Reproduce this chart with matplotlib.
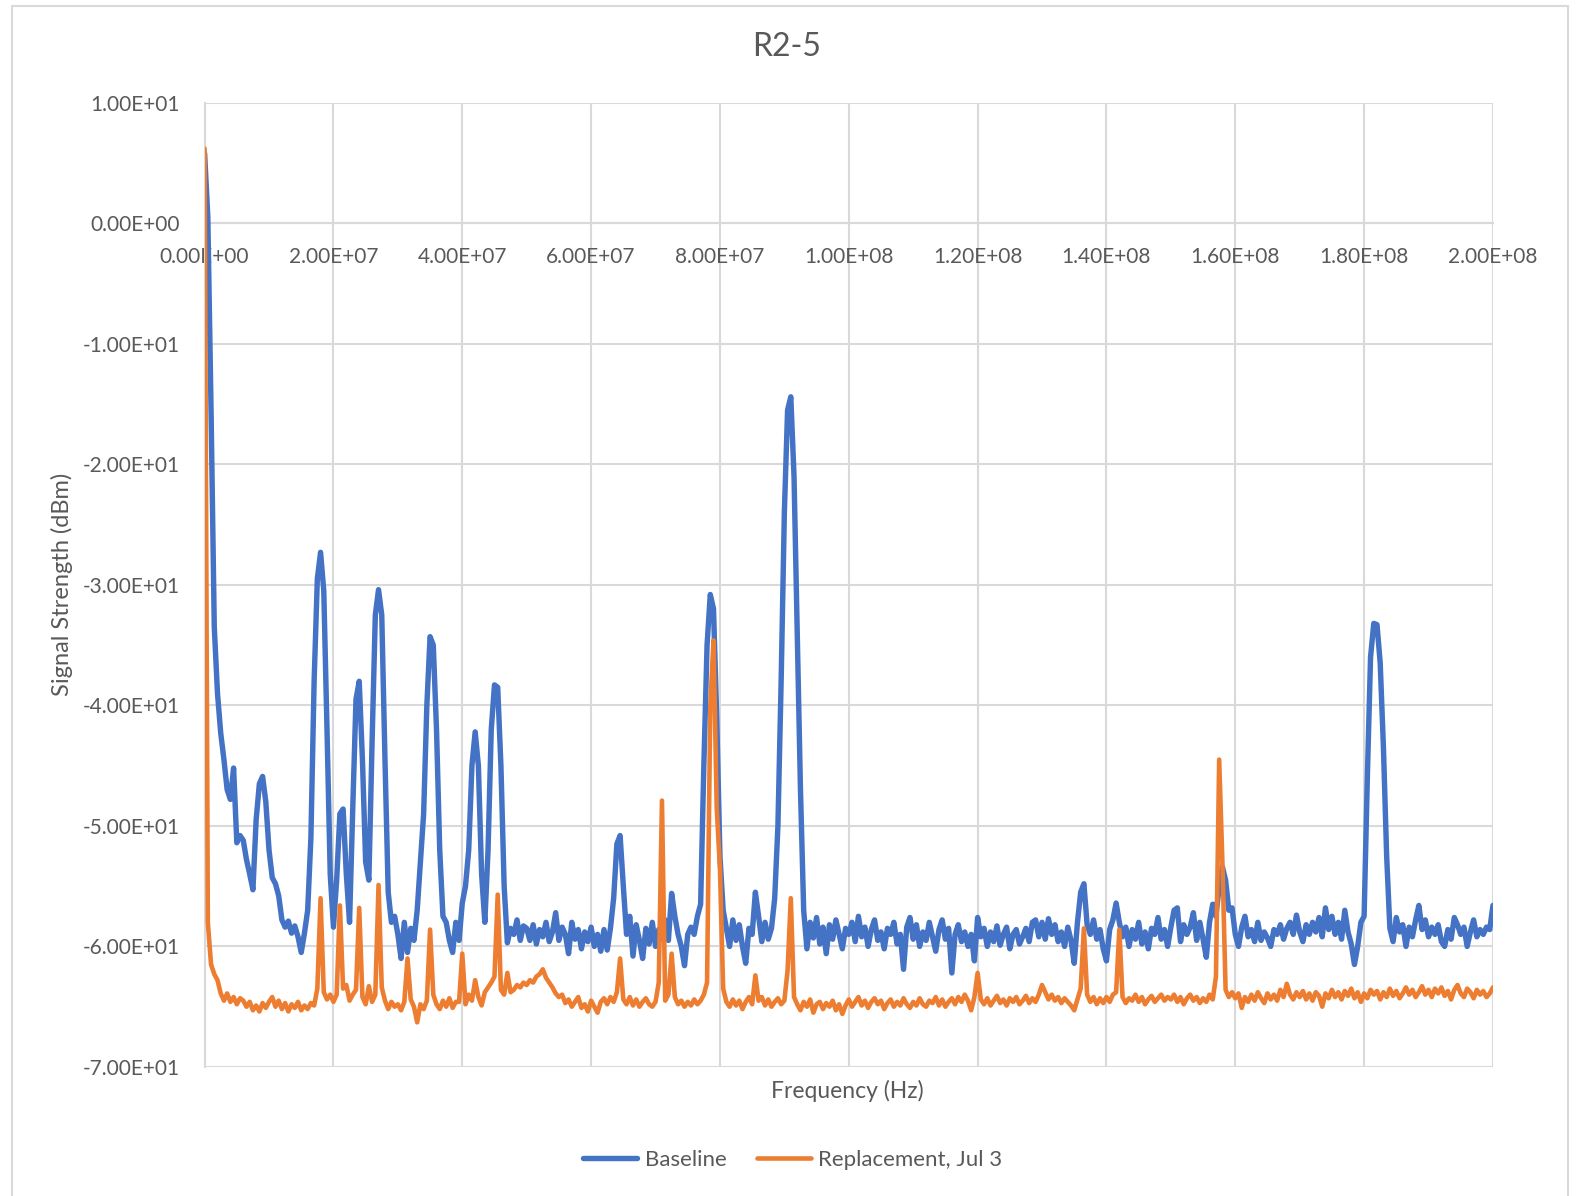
import matplotlib
matplotlib.use('Agg')
import matplotlib.pyplot as plt
from matplotlib.patches import Rectangle
from matplotlib.ticker import FuncFormatter, MultipleLocator
import numpy as np

plt.rcParams['font.family'] = ['Lato', 'DejaVu Sans']

# sweep points every 0.5 MHz from 0 to 200 MHz
freq_hz = np.linspace(0, 2e8, 401)

# Baseline trace (dBm), one row per 10 MHz
baseline = [
    5.8, 0.5, -15.5, -33.5, -39.0, -42.3, -44.5, -47.0, -47.8, -45.2,
    -51.4, -50.8, -51.2, -52.8, -54.0, -55.3, -49.5, -46.5, -45.9, -48.0,
    -52.0, -54.3, -54.8, -55.8, -57.8, -58.4, -57.9, -58.9, -58.3, -59.2,
    -60.5, -58.9, -57.0, -51.0, -38.0, -29.5, -27.3, -30.5, -42.0, -54.0,
    -58.4, -54.5, -49.0, -48.6, -54.0, -58.0, -48.5, -39.5, -38.0, -44.5,
    -53.0, -54.5, -43.0, -32.5, -30.4, -32.5, -44.5, -55.5, -58.0, -57.5,
    -59.0, -61.0, -58.0, -60.5, -58.5, -59.5, -57.0, -53.0, -49.0, -40.0,
    -34.3, -35.0, -42.0, -52.0, -57.5, -58.0, -59.5, -60.5, -58.0, -59.5,
    -56.4, -55.0, -52.0, -45.0, -42.2, -45.0, -54.0, -58.0, -52.0, -42.0,
    -38.3, -38.5, -45.0, -55.0, -59.7, -58.5, -59.0, -57.8, -59.5, -58.3,
    -58.5, -59.5, -58.2, -59.8, -58.6, -59.2, -58.0, -59.6, -58.8, -57.2,
    -59.5, -58.4, -59.0, -60.6, -58.0, -59.4, -58.6, -60.2, -58.8, -59.6,
    -58.4, -60.0, -59.0, -60.4, -58.6, -60.3, -58.5, -56.0, -51.5, -50.8,
    -55.0, -59.0, -57.5, -60.8, -58.2, -59.5, -61.0, -58.5, -59.8, -58.0,
    -60.0, -58.6, -59.4, -57.8, -59.5, -55.6, -57.5, -59.0, -60.0, -61.6,
    -59.0, -58.4, -59.0, -57.5, -56.5, -45.0, -35.0, -30.8, -32.0, -41.0,
    -52.5, -57.0, -58.5, -60.0, -57.8, -59.5, -58.2, -60.0, -61.4, -58.5,
    -59.0, -55.5, -57.5, -59.6, -58.0, -59.4, -58.5, -56.0, -50.0, -38.0,
    -24.0, -15.5, -14.4, -21.0, -34.0, -47.0, -57.0, -60.2, -58.0, -59.3,
    -57.6, -59.8, -58.4, -60.6, -58.2, -59.4, -57.8, -59.0, -60.2, -58.5,
    -59.0, -58.0, -59.6, -57.5, -59.2, -58.4, -60.0, -58.6, -57.8, -59.5,
    -58.8, -60.2, -58.5, -59.0, -58.0, -59.8, -59.0, -61.9, -58.4, -57.6,
    -59.4, -58.2, -60.0, -58.8, -59.5, -58.0, -59.2, -60.4, -58.6, -57.8,
    -59.4, -58.5, -62.2, -59.0, -58.2, -59.6, -58.8, -60.0, -59.0, -61.2,
    -57.6, -59.2, -58.5, -60.0, -58.8, -59.6, -58.3, -59.9, -59.0, -58.4,
    -60.2, -59.0, -58.6, -59.8, -59.2, -58.5, -59.6, -58.0, -57.8, -59.2,
    -58.0, -59.4, -57.7, -59.0, -58.2, -59.6, -58.8, -60.0, -58.4, -59.5,
    -61.4, -58.0, -55.5, -54.8, -58.2, -59.0, -57.8, -59.4, -58.6, -60.2,
    -61.2, -58.6, -57.8, -56.4, -58.0, -59.2, -58.4, -60.0, -58.6, -59.4,
    -58.0, -59.8, -58.8, -60.2, -58.5, -59.0, -57.6, -59.4, -58.6, -60.0,
    -58.4, -57.0, -56.8, -59.6, -58.2, -59.0, -58.4, -57.2, -59.5, -58.0,
    -59.4, -60.9, -58.0, -56.5, -57.5, -55.0, -53.4, -54.5, -57.0, -56.8,
    -59.0, -60.0, -58.4, -57.5, -59.2, -58.6, -59.6, -58.0, -59.5, -58.8,
    -59.3, -60.0, -58.6, -59.0, -58.2, -59.4, -58.5, -58.0, -59.0, -57.4,
    -58.8, -59.6, -58.2, -59.0, -58.0, -58.8, -57.6, -59.2, -56.8, -58.6,
    -57.5, -59.0, -58.0, -59.4, -57.0, -58.8, -59.8, -61.5, -60.0, -58.0,
    -57.5, -46.0, -36.0, -33.2, -33.3, -36.5, -43.5, -52.5, -58.5, -59.6,
    -57.6, -58.8, -58.2, -60.0, -58.4, -59.2, -57.8, -56.6, -58.6, -57.8,
    -59.2, -58.4, -59.0, -58.2, -59.6, -60.0, -58.6, -59.4, -57.6, -58.2,
    -59.0, -58.4, -60.0, -58.8, -57.8, -59.2, -58.6, -59.0, -58.4, -58.6,
    -56.6,
]

# Replacement trace (dBm), same sweep
replacement = [
    6.2, -58.0, -61.5, -62.3, -62.8, -63.9, -64.5, -63.9, -64.6, -64.2,
    -64.8, -64.3, -64.5, -65.0, -64.6, -65.3, -64.9, -65.4, -64.7, -65.1,
    -64.6, -64.2, -65.0, -64.5, -65.2, -64.7, -65.4, -64.8, -65.1, -64.6,
    -65.3, -64.9, -65.2, -64.7, -64.9, -63.5, -56.0, -63.8, -64.4, -64.0,
    -64.6, -64.0, -56.6, -63.5, -63.2, -64.5, -64.0, -63.6, -56.8, -64.2,
    -64.8, -63.3, -64.6, -64.0, -54.9, -63.4, -64.5, -65.2, -64.6, -65.0,
    -64.8, -65.3, -64.6, -61.0, -64.4, -65.0, -66.3, -64.8, -65.2, -64.5,
    -58.6, -64.0, -64.8, -65.2, -64.5, -65.0, -64.3, -65.1, -64.6, -64.6,
    -60.6, -64.8, -64.0, -64.5, -62.8, -64.2, -64.9, -63.8, -63.4, -63.0,
    -62.5, -55.7, -63.6, -64.0, -62.2, -63.8, -63.6, -63.2, -63.4, -63.0,
    -63.2, -62.8, -63.0, -62.5, -62.3, -61.9, -62.6, -63.0, -63.4, -63.9,
    -64.2, -64.0, -64.7, -64.4, -65.0, -64.6, -64.2, -65.1, -64.8, -65.4,
    -64.5, -65.0, -65.5, -64.6, -64.3, -64.8, -64.2, -64.6, -63.8, -61.0,
    -64.4, -64.8, -64.2, -64.9, -64.4, -65.0, -64.6, -64.3, -64.8, -65.0,
    -64.6, -63.0, -47.9, -64.5, -64.0, -60.6, -64.2, -64.8, -64.5, -65.0,
    -64.6, -64.9, -64.4, -64.8, -64.5, -64.0, -63.0, -40.0, -34.6, -48.5,
    -53.5, -63.5, -64.6, -65.0, -64.4, -64.9, -64.5, -65.2, -64.6, -64.2,
    -64.8, -62.4, -64.5, -64.2, -64.9, -64.4, -65.0, -64.6, -64.3, -64.8,
    -64.5, -62.0, -56.0, -64.2, -64.8, -65.3, -64.6, -65.0, -64.4, -65.5,
    -64.8, -64.6, -65.2, -64.7, -65.0, -64.5, -65.3, -64.8, -65.6, -64.9,
    -64.4, -65.0, -64.6, -64.2, -64.9, -64.5, -65.1, -64.6, -64.3, -64.8,
    -64.5, -65.2, -64.7, -64.4, -65.0, -64.6, -64.9, -64.3, -64.8, -65.1,
    -64.6, -64.9, -64.3, -64.8, -65.0, -64.5, -64.7, -64.2, -64.9, -64.4,
    -65.0, -64.6, -64.3, -64.8, -64.2, -64.6, -64.0, -64.5, -65.3, -64.2,
    -62.2, -64.4, -64.8, -64.3, -64.9, -64.5, -64.1, -64.7, -64.4, -64.9,
    -64.3, -64.6, -64.2, -64.8, -64.5, -64.1, -64.7, -64.3, -64.6, -64.0,
    -63.2, -63.8, -64.4, -64.0, -64.5, -64.2, -64.7, -64.3, -64.6, -64.9,
    -65.3, -64.4, -63.5, -58.5, -64.0, -64.6, -64.2, -64.8, -64.3, -64.7,
    -64.2, -64.6, -64.0, -63.8, -58.6, -64.2, -64.7, -64.3, -64.5, -64.0,
    -64.6, -64.2, -64.8, -64.4, -64.1, -64.6, -64.3, -64.0, -64.5, -64.2,
    -64.4, -64.0, -64.6, -64.2, -64.8, -64.3, -64.0, -64.5, -64.2, -64.7,
    -64.3, -64.6, -64.0, -64.4, -62.5, -44.5, -53.0, -63.6, -64.2, -63.8,
    -64.3, -63.9, -65.1, -64.2, -64.6, -64.0, -64.5, -63.8, -64.3, -64.7,
    -63.9, -64.4, -64.0, -64.5, -63.6, -64.2, -63.1, -64.0, -64.4, -63.8,
    -64.2, -63.7, -64.4, -63.9, -64.5, -63.8, -64.1, -65.0, -63.9, -64.3,
    -63.6, -64.2, -63.8, -64.4, -63.7, -64.1, -63.5, -64.3, -63.8, -64.6,
    -63.9, -64.3, -63.6, -64.0, -63.7, -64.4, -63.8, -64.2, -63.5, -64.1,
    -63.7, -64.3, -63.9, -63.4, -64.0, -63.6, -64.2, -63.8, -63.3, -64.0,
    -63.6, -64.2, -63.5, -63.9, -63.4, -64.1, -63.7, -64.4, -63.6, -63.2,
    -63.9, -64.2, -63.5, -63.8, -64.3, -63.6, -64.0, -63.7, -64.2, -63.9,
    -63.4,
]

series_names = ['Baseline', 'Replacement, Jul 3']
series_colors = ['#4472C4', '#ED7D31']

text_grey = '#595959'
grid_grey = '#D9D9D9'

fig = plt.figure(figsize=(15.8, 11.96), dpi=100)

# chart area border (open at the bottom)
fig.patches.append(Rectangle((11.7 / 1580, -0.02), (1568 - 11.7) / 1580, 1.02 - 5.5 / 1196,
                             transform=fig.transFigure, fill=False,
                             edgecolor=grid_grey, linewidth=1.5))

ax = fig.add_axes([0.1295, 0.1079, 0.8154, 0.8062])

ax.plot(freq_hz, baseline, color=series_colors[0], lw=3.9, label=series_names[0],
        solid_joinstyle='round', solid_capstyle='round', zorder=3)
ax.plot(freq_hz, replacement, color=series_colors[1], lw=3.3, label=series_names[1],
        solid_joinstyle='round', solid_capstyle='round', zorder=4)

ax.set_xlim(0, 2e8)
ax.set_ylim(-70, 10)
ax.xaxis.set_major_locator(MultipleLocator(2e7))
ax.yaxis.set_major_locator(MultipleLocator(10))

sci = FuncFormatter(lambda v, pos: f'{v:.2E}')
ax.xaxis.set_major_formatter(sci)
ax.yaxis.set_major_formatter(sci)

ax.grid(True, color=grid_grey, linewidth=1.5)
ax.set_axisbelow(True)

# Excel-style: category axis crosses at 0 dBm
ax.spines['bottom'].set_position(('data', 0))
ax.spines['bottom'].set_color(grid_grey)
ax.spines['bottom'].set_linewidth(1.5)
ax.spines['left'].set_color(grid_grey)
ax.spines['left'].set_linewidth(1.5)
ax.spines['top'].set_visible(False)
ax.spines['right'].set_visible(False)

ax.tick_params(axis='x', length=0, pad=17, labelsize=15, labelcolor=text_grey)
ax.tick_params(axis='y', length=0, pad=18, labelsize=15, labelcolor=text_grey)

fig.text(787 / 1580, 1 - 46.7 / 1196, 'R2-5', ha='center', va='center',
         fontsize=23, color=text_grey)
fig.text(62 / 1580, 0.511, 'Signal Strength (dBm)', rotation=90,
         ha='center', va='center', fontsize=17, color=text_grey)
fig.text(847 / 1580, 1 - 1091 / 1196, 'Frequency (Hz)', ha='center', va='center',
         fontsize=16.5, color=text_grey)

leg = fig.legend(loc='center', bbox_to_anchor=(793 / 1580, 1 - 1160 / 1196), ncol=2,
                 frameon=False, fontsize=16, handlelength=2.4, handletextpad=0.35,
                 columnspacing=1.4)
for txt in leg.get_texts():
    txt.set_color(text_grey)

fig.savefig('out.png', dpi=100, facecolor='white')
